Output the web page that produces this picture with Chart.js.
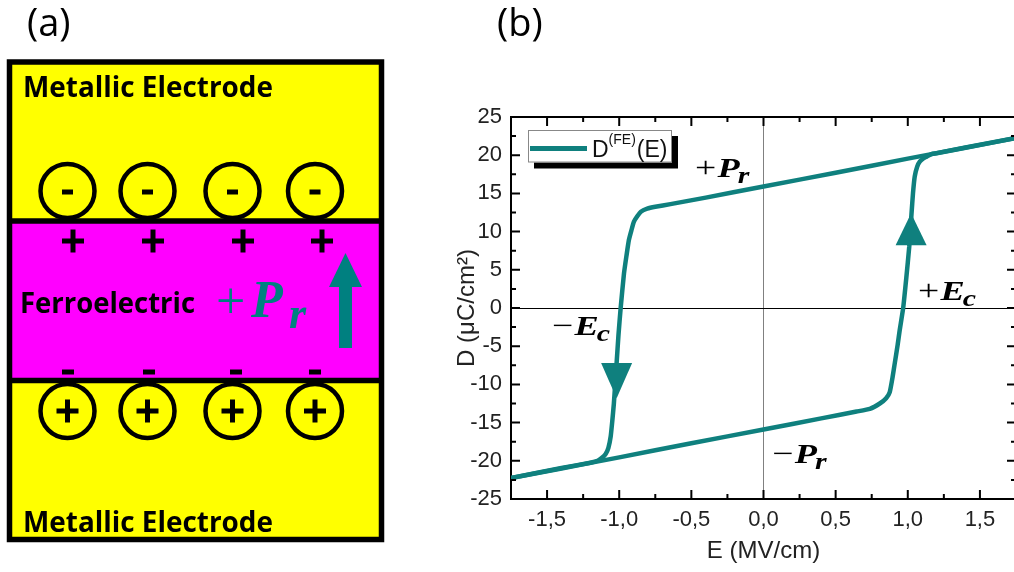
<!DOCTYPE html>
<html>
<head>
<meta charset="utf-8">
<title>Ferroelectric capacitor and D-E hysteresis</title>
<script src="https://cdn.jsdelivr.net/npm/chart.js@4/dist/chart.umd.min.js"></script>
<style>
  html, body { margin: 0; padding: 0; background: #fff; overflow: hidden; }
  #wrap { position: relative; width: 1014px; height: 572px; overflow: hidden; }
  #cvs_stack { position: absolute; left: 0; top: 0; }
  #box_loop { position: absolute; left: 420px; top: 0; width: 610px; height: 572px; }
</style>
</head>
<body>
<div id="wrap">
  <canvas id="cvs_stack" width="420" height="572"></canvas>
  <div id="box_loop"><canvas id="cvs_loop"></canvas></div>
</div>
<script>
// field sweep from +Emax down to -Emax (upper branch, switching at -Ec)
var descE = [1.75, 1.40, 1.00, 0.50, 0.00, -0.40, -0.645, -0.75, -0.806, -0.85, -0.875, -0.898, -0.915, -0.933, -0.95, -0.967, -0.990, -1.005, -1.018, -1.028, -1.037, -1.048, -1.059, -1.075, -1.094, -1.12, -1.15, -1.20, -1.40, -1.75];
var descD = [22.25, 21.0, 19.55, 17.7, 15.9, 14.45, 13.6, 13.25, 13.0, 12.6, 12.0, 11.3, 10.2, 8.9, 6.8, 4.5, 0.0, -3.5, -7.2, -10.0, -12.5, -14.8, -16.8, -18.3, -19.1, -19.6, -20.0, -20.25, -20.95, -22.25];

// field sweep from -Emax up to +Emax (lower branch, switching at +Ec)
var ascE = [-1.75, -1.40, -1.00, -0.50, 0.00, 0.40, 0.645, 0.737, 0.806, 0.85, 0.875, 0.895, 0.91, 0.93, 0.944, 0.968, 0.99, 1.01, 1.026, 1.036, 1.048, 1.065, 1.083, 1.11, 1.13, 1.164, 1.20, 1.40, 1.75];
var ascD = [-22.25, -21.0, -19.55, -17.7, -15.9, -14.45, -13.55, -13.2, -12.5, -11.8, -11.0, -9.0, -7.2, -4.8, -2.9, 0.0, 4.0, 8.0, 12.4, 15.0, 17.2, 18.5, 19.15, 19.6, 19.8, 20.15, 20.25, 20.98, 22.25];

var xTicks = [-1.5, -1.0, -0.5, 0.0, 0.5, 1.0, 1.5];
var yTicks = [-25, -20, -15, -10, -5, 0, 5, 10, 15, 20, 25];

var teal = '#0f807e';

// ---------- panel (a): electrode / ferroelectric / electrode stack ----------
function fitText(ctx, txt, x, y, w) {
    var m = ctx.measureText(txt).width;
    ctx.save();
    ctx.translate(x, y);
    ctx.scale(w / m, 1);
    ctx.fillText(txt, 0, 0);
    ctx.restore();
}

function drawStack() {
    var ctx = document.getElementById('cvs_stack').getContext('2d');
    ctx.fillStyle = '#000';
    ctx.font = '38px "Open Sans"';
    ctx.fillText('(a)', 27, 36);

    var L = 9.5, R = 381.5, T = 62, M1 = 221, M2 = 380.5, B = 539.5;
    ctx.fillStyle = '#ffff00';
    ctx.fillRect(L, T, R - L, M1 - T);
    ctx.fillRect(L, M2, R - L, B - M2);
    ctx.fillStyle = '#ff00ff';
    ctx.fillRect(L, M1, R - L, M2 - M1);

    ctx.strokeStyle = '#000';
    ctx.fillStyle = '#000';

    // bound charges in the electrodes
    var cx = [67.5, 147.5, 232.5, 315];
    ctx.lineWidth = 4.5;
    cx.forEach(function (x) {
        ctx.beginPath(); ctx.arc(x, 191, 27, 0, Math.PI * 2); ctx.stroke();
        ctx.fillRect(x - 5.5, 189.5, 11, 5);
        ctx.beginPath(); ctx.arc(x, 411, 27, 0, Math.PI * 2); ctx.stroke();
        ctx.fillRect(x - 11, 408.5, 22, 5);
        ctx.fillRect(x - 2.5, 399.5, 5, 23);
    });

    // polarisation charges at the ferroelectric surfaces
    [73, 153, 243, 322].forEach(function (x) {
        ctx.fillRect(x - 11, 238.5, 22, 5);
        ctx.fillRect(x - 2.5, 229.5, 5, 23);
    });
    [68, 149, 236, 315].forEach(function (x) {
        ctx.fillRect(x - 6, 369.5, 12, 5);
    });

    ctx.lineWidth = 5.5;
    ctx.strokeRect(L, T, R - L, B - T);
    ctx.beginPath();
    ctx.moveTo(L, M1); ctx.lineTo(R, M1);
    ctx.moveTo(L, M2); ctx.lineTo(R, M2);
    ctx.stroke();

    ctx.font = 'bold 28px "Open Sans"';
    fitText(ctx, 'Metallic Electrode', 23, 97, 250);
    fitText(ctx, 'Ferroelectric', 20, 313, 175);
    fitText(ctx, 'Metallic Electrode', 23, 532, 250);

    // +Pr and the polarisation arrow
    ctx.fillStyle = '#008080';
    ctx.font = '52px "Liberation Serif"';
    ctx.fillText('+', 216, 318);
    ctx.font = 'italic bold 52px "Liberation Serif"';
    ctx.fillText('P', 251, 317);
    ctx.font = 'italic bold 44px "Liberation Serif"';
    ctx.fillText('r', 289, 328);
    ctx.fillRect(339, 286, 13, 62);
    ctx.beginPath();
    ctx.moveTo(329, 287); ctx.lineTo(362, 287); ctx.lineTo(345.5, 253);
    ctx.closePath(); ctx.fill();
}

// ---------- panel (b): hysteresis loop ----------
function mathLabel(ctx, x, y, sign, sym, sub) {
    ctx.save();
    ctx.fillStyle = '#000';
    ctx.translate(x, y);
    ctx.scale(1.3, 1);
    var px = 0;
    ctx.font = '29px "Liberation Serif"';
    ctx.fillText(sign, px, 0);
    px += ctx.measureText(sign).width + 1;
    ctx.font = 'italic bold 28px "Liberation Serif"';
    ctx.fillText(sym, px, 0);
    px += ctx.measureText(sym).width - 1.5;
    ctx.font = 'italic bold 23px "Liberation Serif"';
    ctx.fillText(sub, px, 6);
    ctx.restore();
}

function arrowHead(ctx, x, yBase, yTip, half) {
    ctx.beginPath();
    ctx.moveTo(x - half, yBase);
    ctx.lineTo(x + half, yBase);
    ctx.lineTo(x, yTip);
    ctx.closePath();
    ctx.fill();
}

var loopDecor = {
    id: 'loopDecor',
    afterDatasetsDraw: function (chart) {
        var ctx = chart.ctx, a = chart.chartArea;
        var x = chart.scales.x, y = chart.scales.y;
        ctx.save();

        // direction arrows on the switching branches
        ctx.fillStyle = teal;
        arrowHead(ctx, x.getPixelForValue(-1.018), y.getPixelForValue(-7.2), y.getPixelForValue(-11.8), 15.5);
        arrowHead(ctx, x.getPixelForValue(1.023), y.getPixelForValue(8.2), y.getPixelForValue(12.4), 15.5);

        // frame: top and right sides
        ctx.strokeStyle = '#000';
        ctx.lineWidth = 2;
        ctx.beginPath();
        ctx.moveTo(a.left, a.top); ctx.lineTo(a.right, a.top); ctx.lineTo(a.right, a.bottom);
        ctx.stroke();

        // inward major / minor ticks on all four sides
        ctx.beginPath();
        for (var i = 0; i < xTicks.length; i++) {
            var px = x.getPixelForValue(xTicks[i]);
            ctx.moveTo(px, a.bottom); ctx.lineTo(px, a.bottom - 9);
            ctx.moveTo(px, a.top); ctx.lineTo(px, a.top + 9);
            var pm = x.getPixelForValue(xTicks[i] + 0.25);
            ctx.moveTo(pm, a.bottom); ctx.lineTo(pm, a.bottom - 5);
            ctx.moveTo(pm, a.top); ctx.lineTo(pm, a.top + 5);
            if (i === 0) {
                var p0 = x.getPixelForValue(xTicks[0] - 0.25);
                if (p0 > a.left + 2) {
                    ctx.moveTo(p0, a.bottom); ctx.lineTo(p0, a.bottom - 5);
                    ctx.moveTo(p0, a.top); ctx.lineTo(p0, a.top + 5);
                }
            }
        }
        for (var j = 0; j < yTicks.length; j++) {
            var py = y.getPixelForValue(yTicks[j]);
            ctx.moveTo(a.left, py); ctx.lineTo(a.left + 9, py);
            ctx.moveTo(a.right, py); ctx.lineTo(a.right - 9, py);
            if (j < yTicks.length - 1) {
                var qm = y.getPixelForValue(yTicks[j] + 2.5);
                ctx.moveTo(a.left, qm); ctx.lineTo(a.left + 5, qm);
                ctx.moveTo(a.right, qm); ctx.lineTo(a.right - 5, qm);
            }
        }
        ctx.stroke();

        // characteristic points of the loop
        mathLabel(ctx, x.getPixelForValue(-0.475), y.getPixelForValue(17.1), '+', 'P', 'r');
        mathLabel(ctx, x.getPixelForValue(-1.466), y.getPixelForValue(-3.5), '\u2212', 'E', 'c');
        mathLabel(ctx, x.getPixelForValue(1.07), y.getPixelForValue(1.05), '+', 'E', 'c');
        mathLabel(ctx, x.getPixelForValue(0.06), y.getPixelForValue(-20.3), '\u2212', 'P', 'r');

        // legend box with drop shadow
        var lx = a.left + 17, ly = a.top + 13;
        ctx.fillStyle = '#000';
        ctx.fillRect(lx + 6, ly + 6, 144, 32.5);
        ctx.fillStyle = '#fff';
        ctx.fillRect(lx, ly, 144, 32.5);
        ctx.strokeStyle = '#888';
        ctx.lineWidth = 1;
        ctx.strokeRect(lx + 0.5, ly + 0.5, 143, 31.5);
        ctx.strokeStyle = teal;
        ctx.lineWidth = 5;
        ctx.beginPath();
        ctx.moveTo(lx + 2, ly + 18.5); ctx.lineTo(lx + 59, ly + 18.5);
        ctx.stroke();
        ctx.fillStyle = '#111';
        var tx = lx + 64;
        ctx.font = '23px "Liberation Sans"';
        ctx.fillText('D', tx, ly + 27);
        tx += ctx.measureText('D').width;
        ctx.font = '14px "Liberation Sans"';
        ctx.fillText('(FE)', tx, ly + 14);
        tx += ctx.measureText('(FE)').width + 1;
        ctx.font = '23px "Liberation Sans"';
        ctx.fillText('(E)', tx, ly + 27);

        // panel letter
        ctx.fillStyle = '#000';
        ctx.font = '38px "Open Sans"';
        ctx.fillText('(b)', 77, 36);
        ctx.restore();
    }
};

function toPoints(ex, dy) {
    return ex.map(function (e, i) { return { x: e, y: dy[i] }; });
}

var config = {
    type: 'scatter',
    data: {
        datasets: [{
            label: 'D(FE)(E)',
            data: toPoints(descE, descD),
            showLine: true,
            borderColor: teal,
            borderWidth: 4.5,
            pointRadius: 0,
            tension: 0.15,
            borderCapStyle: 'round',
            borderJoinStyle: 'round'
        }, {
            label: 'D(FE)(E)',
            data: toPoints(ascE, ascD),
            showLine: true,
            borderColor: teal,
            borderWidth: 4.5,
            pointRadius: 0,
            tension: 0.15,
            borderCapStyle: 'round',
            borderJoinStyle: 'round'
        }]
    },
    options: {
        responsive: true,
        maintainAspectRatio: false,
        animation: false,
        layout: { padding: { top: 117, right: 14, left: 0, bottom: 0 } },
        plugins: {
            legend: { display: false },
            tooltip: { enabled: false }
        },
        scales: {
            x: {
                type: 'linear',
                min: -1.75,
                max: 1.75,
                afterBuildTicks: function (s) { s.ticks = xTicks.map(function (v) { return { value: v }; }); },
                afterFit: function (s) { s.height = 73; },
                border: { display: true, color: '#000', width: 2 },
                grid: {
                    drawTicks: false,
                    lineWidth: 1,
                    color: function (c) { return c.tick && c.tick.value === 0 ? '#808080' : 'rgba(0,0,0,0)'; }
                },
                ticks: {
                    padding: 8,
                    maxRotation: 0,
                    autoSkip: false,
                    color: '#222',
                    font: { family: '"Liberation Sans"', size: 22 },
                    callback: function (v) { return Number(v).toFixed(1).replace('.', ','); }
                },
                title: {
                    display: true,
                    text: 'E (MV/cm)',
                    color: '#222',
                    font: { family: '"Liberation Sans"', size: 24 },
                    padding: { top: 0, bottom: 6 }
                }
            },
            y: {
                type: 'linear',
                min: -25,
                max: 25,
                afterBuildTicks: function (s) { s.ticks = yTicks.map(function (v) { return { value: v }; }); },
                afterFit: function (s) { s.width = 91; },
                border: { display: true, color: '#000', width: 2 },
                grid: {
                    drawTicks: false,
                    lineWidth: 1,
                    color: function (c) { return c.tick && c.tick.value === 0 ? '#000' : 'rgba(0,0,0,0)'; }
                },
                ticks: {
                    padding: 9,
                    color: '#222',
                    font: { family: '"Liberation Sans"', size: 22 },
                    callback: function (v) { return String(v); }
                },
                title: {
                    display: true,
                    text: 'D (\u03bcC/cm\u00b2)',
                    color: '#222',
                    font: { family: '"Liberation Sans"', size: 24 },
                    padding: { top: 33, bottom: 0 }
                }
            }
        }
    },
    plugins: [loopDecor]
};

window.onload = function () {
    drawStack();
    window.myLoop = new Chart(document.getElementById('cvs_loop'), config);
};
</script>
</body>
</html>
